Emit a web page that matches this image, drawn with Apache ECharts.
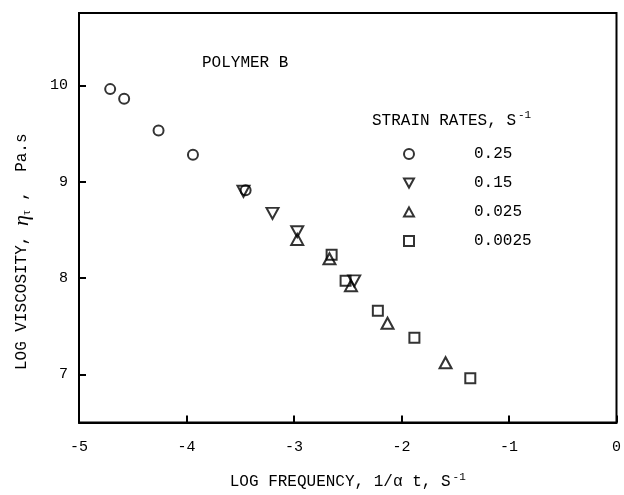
<!DOCTYPE html>
<html>
<head>
<meta charset="utf-8">
<script src="https://cdn.jsdelivr.net/npm/echarts@6/dist/echarts.min.js"></script>
<style>
  html, body { margin: 0; padding: 0; background: #fff; }
  #chart { width: 624px; height: 495px; }
</style>
</head>
<body>
<div id="chart"></div>
<script>
// Log viscosity vs. log frequency for Polymer B at four strain rates
const strainRates = ['0.25', '0.15', '0.025', '0.0025'];

const rate025X = [-4.71, -4.58, -4.26, -3.94, -3.45];
const rate025Y = [9.96, 9.86, 9.53, 9.28, 8.91];

const rate015X = [-3.47, -3.20, -2.97, -2.44];
const rate015Y = [8.90, 8.67, 8.48, 7.97];

const rate0025X = [-2.97, -2.67, -2.47, -2.13, -1.59];
const rate0025Y = [8.40, 8.20, 7.92, 7.53, 7.12];

const rate00025X = [-2.65, -2.52, -2.22, -1.88, -1.36];
const rate00025Y = [8.24, 7.97, 7.66, 7.38, 6.96];

const FONT = '"Liberation Mono", "DejaVu Sans Mono", monospace';

function pairs(xs, ys) {
  return xs.map((x, i) => [x, ys[i]]);
}

const markerStyle = {
  color: 'rgba(0,0,0,0)',
  borderColor: '#000',
  borderWidth: 2
};

const DOWN_TRIANGLE = 'path://M0,0 L12,0 L6,11 Z';
const UP_TRIANGLE = 'path://M6,0 L12,11 L0,11 Z';

const chart = echarts.init(document.getElementById('chart'), null, { renderer: 'canvas' });

chart.setOption({
  backgroundColor: '#fff',
  animation: false,
  textStyle: { fontFamily: FONT, color: '#000' },
  grid: {
    left: 79, right: 5, top: 13, bottom: 70,
    show: true, borderColor: '#000', borderWidth: 2
  },
  xAxis: {
    type: 'value',
    min: -5, max: 0, interval: 1,
    axisLine: { show: true, onZero: false, lineStyle: { color: '#000', width: 2 } },
    axisTick: { show: true, inside: true, length: 7, lineStyle: { color: '#000', width: 2 } },
    axisLabel: {
      color: '#000', fontFamily: FONT, fontSize: 15, margin: 17
    },
    splitLine: { show: false },
    name: '{t|LOG FREQUENCY, 1/α t, S}{sup|-1}',
    nameLocation: 'middle',
    nameGap: 49,
    nameTextStyle: {
      rich: {
        t: { fontFamily: FONT, fontSize: 16, color: '#000' },
        sup: { fontFamily: FONT, fontSize: 11, color: '#000', verticalAlign: 'top', padding: [0, 0, 10, 2] }
      }
    }
  },
  yAxis: {
    type: 'value',
    min: 6.5, max: 10.75, splitNumber: 4,
    axisLine: { show: true, onZero: false, lineStyle: { color: '#000', width: 2 } },
    axisTick: { show: true, inside: true, length: 7, lineStyle: { color: '#000', width: 2 } },
    axisLabel: {
      color: '#000', fontFamily: FONT, fontSize: 15, margin: 11,
      showMinLabel: false, showMaxLabel: false
    },
    splitLine: { show: false },
    name: '{t|LOG VISCOSITY, }{eta|η}{sub|τ}{t| ,  Pa.s}',
    nameLocation: 'middle',
    nameGap: 46,
    nameTextStyle: {
      padding: [0, 68, 0, 0],
      rich: {
        t: { fontFamily: FONT, fontSize: 16, color: '#000' },
        eta: { fontFamily: '"Liberation Serif", serif', fontStyle: 'italic', fontSize: 22, color: '#000' },
        sub: { fontFamily: '"Liberation Serif", serif', fontSize: 12, color: '#000', verticalAlign: 'bottom', padding: [8, 0, 0, 0] }
      }
    }
  },
  legend: {
    orient: 'vertical',
    left: 398, top: 141,
    itemWidth: 10, itemHeight: 10,
    itemGap: 13,
    data: [
      { name: strainRates[0], icon: 'circle' },
      { name: strainRates[1], icon: DOWN_TRIANGLE },
      { name: strainRates[2], icon: UP_TRIANGLE },
      { name: strainRates[3], icon: 'rect' }
    ],
    textStyle: { fontFamily: FONT, fontSize: 16, color: '#000', padding: [0, 0, 0, 55] }
  },
  graphic: [
    {
      type: 'text', left: 202, top: 55,
      style: { text: 'POLYMER B', font: '16px ' + FONT, fill: '#000' }
    },
    {
      type: 'text', left: 372, top: 110,
      style: {
        text: '{t|STRAIN RATES, S}{sup|-1}',
        rich: {
          t: { font: '16px ' + FONT, fill: '#000' },
          sup: { font: '11px ' + FONT, fill: '#000', verticalAlign: 'top', padding: [0, 0, 10, 2] }
        }
      }
    }
  ],
  series: [
    {
      name: strainRates[0], type: 'scatter',
      symbol: 'circle', symbolSize: 10,
      itemStyle: markerStyle,
      data: pairs(rate025X, rate025Y)
    },
    {
      name: strainRates[1], type: 'scatter',
      symbol: DOWN_TRIANGLE, symbolSize: [12, 11],
      itemStyle: markerStyle,
      data: pairs(rate015X, rate015Y)
    },
    {
      name: strainRates[2], type: 'scatter',
      symbol: UP_TRIANGLE, symbolSize: [12, 11],
      itemStyle: markerStyle,
      data: pairs(rate0025X, rate0025Y)
    },
    {
      name: strainRates[3], type: 'scatter',
      symbol: 'rect', symbolSize: 10,
      itemStyle: markerStyle,
      data: pairs(rate00025X, rate00025Y)
    }
  ]
});
</script>
</body>
</html>
